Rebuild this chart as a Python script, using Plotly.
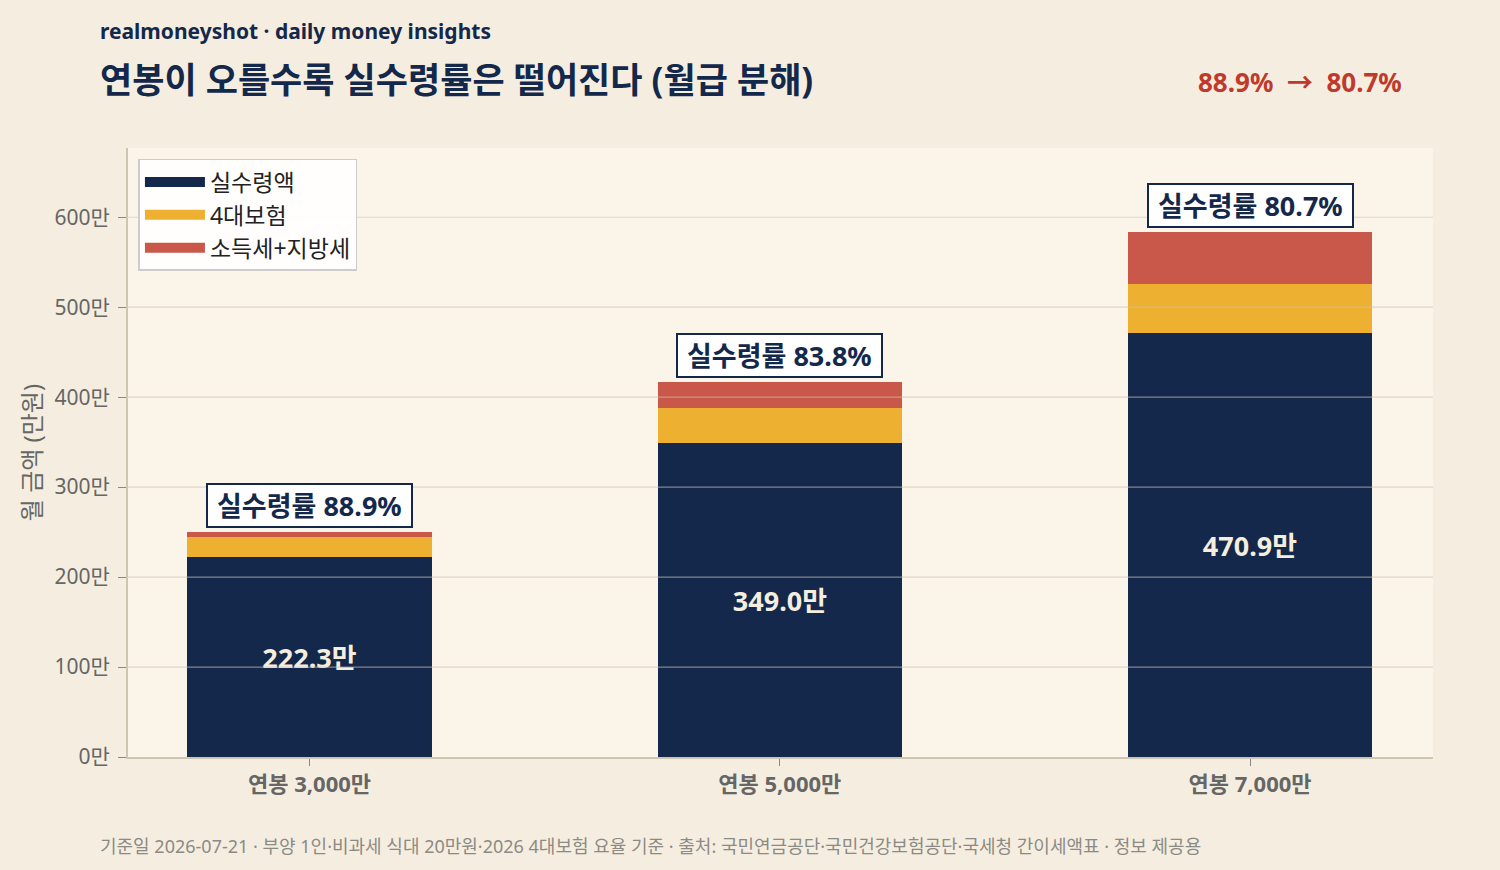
import plotly.graph_objects as go

FONT = "Noto Sans, Noto Sans CJK KR"
NAVY = "#14284b"
YELLOW = "#edb030"
RED = "#c9574a"

categories = ["연봉 3,000만", "연봉 5,000만", "연봉 7,000만"]
net_pay = [222.3, 349.0, 470.9]        # 실수령액 (만원)
insurance = [22.2, 38.8, 54.7]         # 4대보험
income_tax = [5.5, 28.9, 57.7]         # 소득세+지방세
net_labels = ["222.3만", "349.0만", "470.9만"]
rate_labels = ["실수령률 88.9%", "실수령률 83.8%", "실수령률 80.7%"]
y_ticks = [0, 100, 200, 300, 400, 500, 600]
y_ticktext = ["0만", "100만", "200만", "300만", "400만", "500만", "600만"]

totals = [a + b + c for a, b, c in zip(net_pay, insurance, income_tax)]
xs = list(range(len(categories)))

fig = go.Figure()
fig.add_trace(go.Bar(x=xs, y=net_pay, name="실수령액", marker_color=NAVY,
                     marker_line_width=0, width=0.52, showlegend=False,
                     text=["<b>" + t + "</b>" for t in net_labels],
                     textposition="inside", insidetextanchor="middle",
                     textfont=dict(family=FONT, size=27, color="#f5eedf")))
fig.add_trace(go.Bar(x=xs, y=insurance, name="4대보험", marker_color=YELLOW,
                     marker_line_width=0, width=0.52, showlegend=False))
fig.add_trace(go.Bar(x=xs, y=income_tax, name="소득세+지방세", marker_color=RED,
                     marker_line_width=0, width=0.52, showlegend=False))

# 범례용 (넓은 색 막대 모양)
for name, color in [("실수령액", NAVY), ("4대보험", YELLOW), ("소득세+지방세", RED)]:
    fig.add_trace(go.Scatter(x=[None], y=[None], mode="lines", name=name,
                             legendgroup=name, line=dict(color=color, width=15)))

# 실수령률 박스
for x, t, label in zip(xs, totals, rate_labels):
    fig.add_annotation(x=x, y=t, text="&nbsp;<b>" + label + "</b>&nbsp;",
                       showarrow=False, yanchor="bottom", yshift=4,
                       font=dict(family=FONT, size=27, color=NAVY),
                       bgcolor="white", bordercolor=NAVY, borderwidth=2,
                       borderpad=2)

# 그리드를 막대 위에 그림
for v in y_ticks[1:]:
    fig.add_shape(type="line", xref="paper", x0=0, x1=1, yref="y", y0=v, y1=v,
                  line=dict(color="rgba(205,195,178,0.6)", width=1.2),
                  layer="above")

fig.add_annotation(xref="paper", yref="paper", x=-0.0231, y=1.192,
                   xanchor="left", yanchor="middle", showarrow=False,
                   text="<b>realmoneyshot · daily money insights</b>",
                   font=dict(family=FONT, size=21, color=NAVY))
fig.add_annotation(xref="paper", yref="paper", x=-0.0231, y=1.113,
                   xanchor="left", yanchor="middle", showarrow=False,
                   text="<b>연봉이 오를수록 실수령률은 떨어진다 (월급 분해)</b>",
                   font=dict(family=FONT, size=35, color=NAVY))
fig.add_annotation(xref="paper", yref="paper", x=0.978, y=1.108,
                   xanchor="right", yanchor="middle", showarrow=False,
                   text="<b>88.9%  →  80.7%</b>",
                   font=dict(family=FONT, size=26, color="#c0392b"))
fig.add_annotation(xref="paper", yref="paper", x=-0.0231, y=-0.146,
                   xanchor="left", yanchor="middle", showarrow=False,
                   text="기준일 2026-07-21 · 부양 1인·비과세 식대 20만원·2026 4대보험 요율 기준 · "
                        "출처: 국민연금공단·국민건강보험공단·국세청 간이세액표 · 정보 제공용",
                   font=dict(family=FONT, size=18, color="#8c8a85"))

fig.update_layout(
    barmode="stack",
    width=1500, height=870,
    margin=dict(l=128, r=67, t=148, b=113),
    paper_bgcolor="#f5eee0",
    plot_bgcolor="#faf4e9",
    font=dict(family=FONT, color="#666666"),
    bargap=0,
    legend=dict(x=0.008, y=0.982, xanchor="left", yanchor="top",
                traceorder="normal",
                bgcolor="rgba(255,255,255,0.9)", bordercolor="#cccccc",
                borderwidth=1.5, font=dict(family=FONT, size=23, color="#222222"),
                itemwidth=60, tracegroupgap=2),
    xaxis=dict(tickvals=xs, ticktext=["<b>" + c + "</b>" for c in categories],
               range=[-0.386, 2.389], showgrid=False, ticks="outside",
               ticklen=7, tickcolor="#888888", showline=True,
               linecolor="#cfc6b2", linewidth=2,
               tickfont=dict(family=FONT, size=22, color="#666666")),
    yaxis=dict(range=[0, 677], tickvals=y_ticks, ticktext=y_ticktext,
               showgrid=False, zeroline=False, ticks="outside", ticklen=8,
               tickcolor="#888888", showline=True, linecolor="#cfc6b2",
               linewidth=2, ticklabelstandoff=4,
               tickfont=dict(family=FONT, size=21, color="#666666"),
               title=dict(text="월 금액 (만원)", standoff=6,
                          font=dict(family=FONT, size=24, color="#666666"))),
    showlegend=True,
)

fig.write_html("out.html", config={"displayModeBar": False},
               post_script="document.body.style.margin='0';")
